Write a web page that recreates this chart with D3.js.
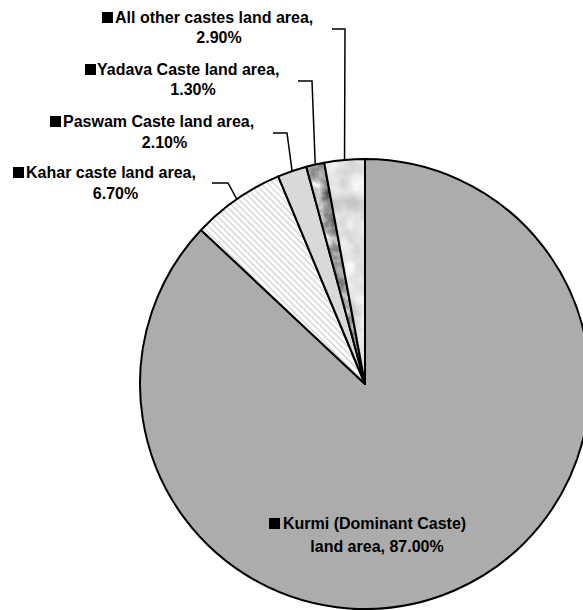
<!DOCTYPE html>
<html>
<head>
<meta charset="utf-8">
<script src="https://cdn.jsdelivr.net/npm/d3@7"></script>
<style>
  html, body { margin: 0; padding: 0; background: #fff; }
  svg { display: block; }
  text { font-family: "Liberation Sans", Arial, sans-serif; font-weight: bold; font-size: 16px; fill: #000; }
</style>
</head>
<body>
<svg id="chart" width="583" height="610"></svg>
<script>
// Land area share by caste (percent)
const categories = [
  "Kurmi (Dominant Caste)",
  "Kahar caste",
  "Paswam Caste",
  "Yadava Caste",
  "All other castes"
];
const values = [87.0, 6.7, 2.1, 1.3, 2.9];
const labelLine1 = [
  "Kurmi (Dominant Caste)",
  "Kahar caste land area,",
  "Paswam Caste land area,",
  "Yadava Caste land area,",
  "All other castes land area,"
];
const labelLine2 = [
  "land area, 87.00%",
  "6.70%",
  "2.10%",
  "1.30%",
  "2.90%"
];

const svg = d3.select("#chart");
const W = 583, H = 610;
const cx = 365, cy = 384, radius = 225;

// Fill textures
const defs = svg.append("defs");

const hatch = defs.append("pattern")
  .attr("id", "hatch").attr("patternUnits", "userSpaceOnUse")
  .attr("width", 4.5).attr("height", 4.5)
  .attr("patternTransform", "rotate(-45)");
hatch.append("rect").attr("width", 4.5).attr("height", 4.5).attr("fill", "#ffffff");
hatch.append("rect").attr("width", 1.5).attr("height", 4.5).attr("fill", "#d6d6d6");

function marble(id, gain, offset, freq, seed) {
  const f = defs.append("filter").attr("id", id + "F")
    .attr("filterUnits", "userSpaceOnUse")
    .attr("color-interpolation-filters", "sRGB")
    .attr("x", 0).attr("y", 0).attr("width", W).attr("height", H);
  f.append("feTurbulence").attr("type", "fractalNoise")
    .attr("baseFrequency", freq).attr("numOctaves", 3).attr("seed", seed);
  f.append("feColorMatrix").attr("type", "matrix")
    .attr("values", `${gain} 0 0 0 ${offset}  ${gain} 0 0 0 ${offset}  ${gain} 0 0 0 ${offset}  0 0 0 0 1`);
  const p = defs.append("pattern").attr("id", id)
    .attr("patternUnits", "userSpaceOnUse").attr("width", W).attr("height", H);
  p.append("rect").attr("width", W).attr("height", H)
    .attr("fill", "#888").attr("filter", `url(#${id}F)`);
}
marble("marbleDark", 0.95, 0.16, 0.07, 3);
marble("marbleLight", 0.35, 0.71, 0.045, 7);

const fills = ["#acacac", "url(#hatch)", "#d9d9d9", "url(#marbleDark)", "url(#marbleLight)"];

const pie = d3.pie().sort(null).value(d => d)(values);
const arc = d3.arc().innerRadius(0).outerRadius(radius);

const g = svg.append("g").attr("transform", `translate(${cx},${cy})`);
g.selectAll("path.slice")
  .data(pie)
  .join("path")
  .attr("class", "slice")
  .attr("d", arc)
  .attr("fill", (d, i) => fills[i])
  .attr("stroke", "#000")
  .attr("stroke-width", 2)
  .attr("stroke-linejoin", "round");

// Label placement: square key x, text start x, line-1 baseline, line-2 centre, line-2 baseline,
// leader elbow (start x, end x, y) for outside labels
const layout = [
  { sq: 269, tx: 283, b1: 529, c2: 377, b2: 552, leader: null },
  { sq: 13,  tx: 26,  b1: 178, c2: 115.5, b2: 199, leader: [212, 228, 183] },
  { sq: 50,  tx: 63,  b1: 127, c2: 164.5, b2: 148, leader: [273, 287, 133] },
  { sq: 85,  tx: 97,  b1: 75,  c2: 193, b2: 95,  leader: [298, 312, 81] },
  { sq: 102, tx: 115, b1: 23,  c2: 219, b2: 43,  leader: [332, 345, 29] }
];

const labels = svg.append("g");
pie.forEach((d, i) => {
  const L = layout[i];
  labels.append("rect")
    .attr("x", L.sq).attr("y", L.b1 - 11)
    .attr("width", 11).attr("height", 11).attr("fill", "#000");
  labels.append("text").attr("x", L.tx).attr("y", L.b1).text(labelLine1[i]);
  labels.append("text").attr("x", L.c2).attr("y", L.b2)
    .attr("text-anchor", "middle").text(labelLine2[i]);
  if (L.leader) {
    const a = (d.startAngle + d.endAngle) / 2;
    const px = cx + radius * Math.sin(a);
    const py = cy - radius * Math.cos(a);
    const [x1, x2, y] = L.leader;
    labels.append("path")
      .attr("d", `M${x1},${y}H${x2}L${px},${py}`)
      .attr("fill", "none").attr("stroke", "#000").attr("stroke-width", 1.5);
  }
});
</script>
</body>
</html>
